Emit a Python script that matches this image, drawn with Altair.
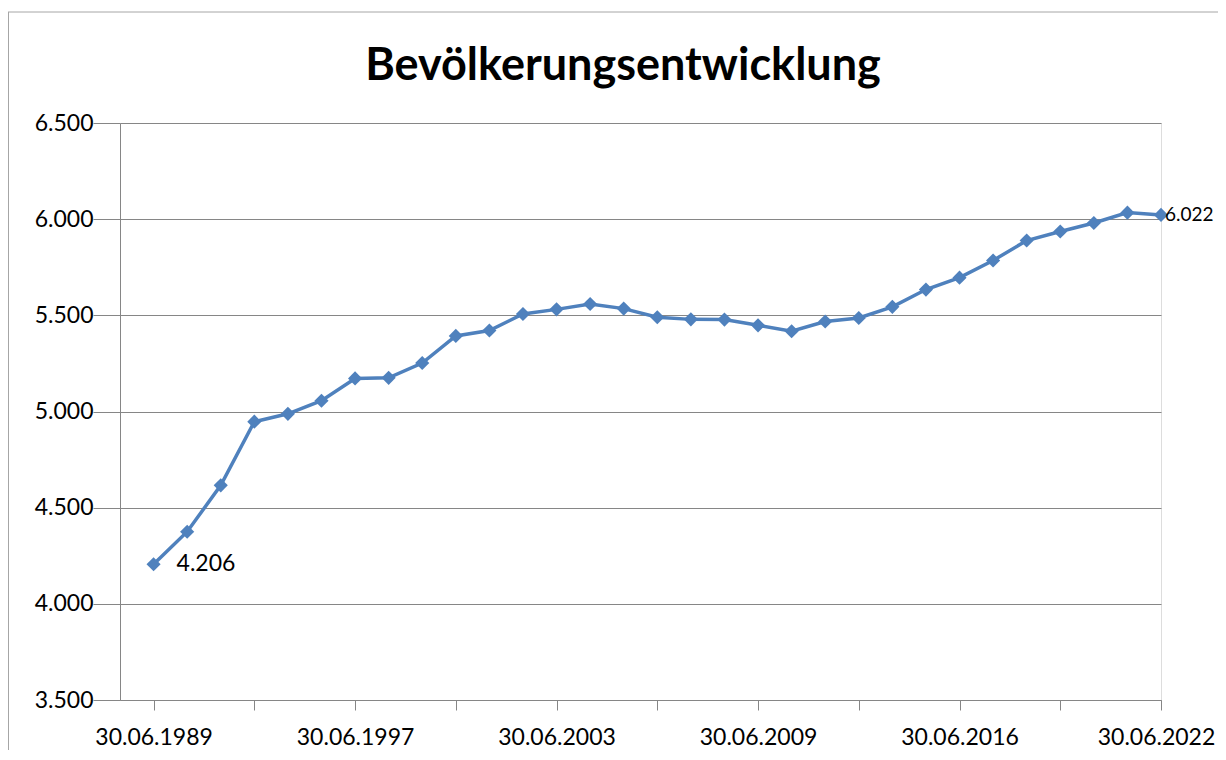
import altair as alt
import pandas as pd

# ---- data -------------------------------------------------------------
dates = [
    "30.06.1989", "30.06.1990", "30.06.1991", "30.06.1993", "30.06.1994",
    "30.06.1995", "30.06.1997", "30.06.1998", "30.06.1999", "30.06.2000",
    "30.06.2001", "30.06.2002", "30.06.2003", "30.06.2004", "30.06.2005",
    "30.06.2006", "30.06.2007", "30.06.2008", "30.06.2009", "30.06.2010",
    "30.06.2011", "30.06.2012", "30.06.2013", "30.06.2015", "30.06.2016",
    "30.06.2017", "30.06.2018", "30.06.2019", "30.06.2020", "30.06.2021",
    "30.06.2022",
]
population = [
    4206, 4375, 4616, 4947, 4988, 5056, 5172, 5175, 5252, 5393,
    5421, 5507, 5531, 5559, 5535, 5490, 5479, 5478, 5448, 5417,
    5468, 5486, 5544, 5634, 5696, 5785, 5889, 5936, 5980, 6034,
    6022,
]
y_ticks = [3500, 4000, 4500, 5000, 5500, 6000, 6500]
title_text = "Bevölkerungsentwicklung"

# ---- table --------------------------------------------------------------
df = pd.DataFrame({
    "idx": list(range(len(dates))),
    "datum": dates,
    "einwohner": population,
})
df["label"] = [f"{v:,}".replace(",", ".") for v in population]

FONT = "Lato"
BLUE = "#4F81BD"
GRAY = "#868686"
W, H = 1041, 577

label_array = "[" + ",".join(f"'{d}'" for d in dates) + "]"
n = len(dates)

x_enc = alt.X(
    "idx:Q",
    scale=alt.Scale(domain=[-1, n - 1], nice=False, zero=False),
    axis=alt.Axis(
        values=list(range(0, n, 3)),
        labelExpr=f"datum.value % 6 == 0 ? {label_array}[datum.value] : ''",
        title=None, grid=False,
        tickSize=10, tickColor=GRAY, domainColor=GRAY,
        labelFont=FONT, labelFontSize=23, labelColor="black",
        labelPadding=16, labelFlush=False, labelOverlap=False,
        labelOffset=alt.ConditionalAxisNumber(
            condition={"test": f"datum.value == {n - 1}", "value": -5},
            value=0,
        ),
    ),
)
y_enc = alt.Y(
    "einwohner:Q",
    scale=alt.Scale(domain=[3500, 6500], nice=False, zero=False),
    axis=alt.Axis(
        values=y_ticks,
        labelExpr="replace(format(datum.value, ',.0f'), ',', '.')",
        title=None, grid=True, gridColor=GRAY, gridWidth=1,
        tickSize=27, tickColor=GRAY, domainColor=GRAY,
        labelFont=FONT, labelFontSize=23, labelColor="black",
        labelPadding=0, labelBaseline="middle",
    ),
)

base = alt.Chart(df)

line = base.mark_line(color=BLUE, strokeWidth=3.5).encode(x=x_enc, y=y_enc)
points = base.mark_point(shape="diamond", filled=True, size=200, color=BLUE,
                         opacity=1).encode(x="idx:Q", y="einwohner:Q")

first_label = base.transform_filter(alt.datum.idx == 0).mark_text(
    align="left", baseline="middle", dx=23, font=FONT, fontSize=23, color="black"
).encode(x="idx:Q", y="einwohner:Q", text="label:N")

last_label = base.transform_filter(alt.datum.idx == n - 1).mark_text(
    align="left", baseline="middle", dx=4, font=FONT, fontSize=19, color="black"
).encode(x="idx:Q", y="einwohner:Q", text="label:N")

one = pd.DataFrame({"t": [title_text]})
title = alt.Chart(one).mark_text(
    font=FONT, fontSize=45, fontWeight="bold", align="center",
    baseline="alphabetic", color="black"
).encode(text="t:N", x=alt.value(503), y=alt.value(-43))

border_left = alt.Chart(one).mark_rule(color="#a6a6a6", strokeWidth=1).encode(
    x=alt.value(-111.5), y=alt.value(-111), y2=alt.value(H + 60))
border_top = alt.Chart(one).mark_rule(color="#a6a6a6", strokeWidth=1).encode(
    x=alt.value(-112), x2=alt.value(W + 70), y=alt.value(-111))

chart = alt.layer(
    line, points, first_label, last_label, title, border_left, border_top
).properties(
    width=W, height=H,
    autosize=alt.AutoSizeParams(type="none"),
    padding={"left": 112, "top": 115, "right": 57, "bottom": 50},
).configure_view(stroke=None).configure(background="white")

chart.save("out.html", embed_options={"renderer": "svg", "actions": False})
